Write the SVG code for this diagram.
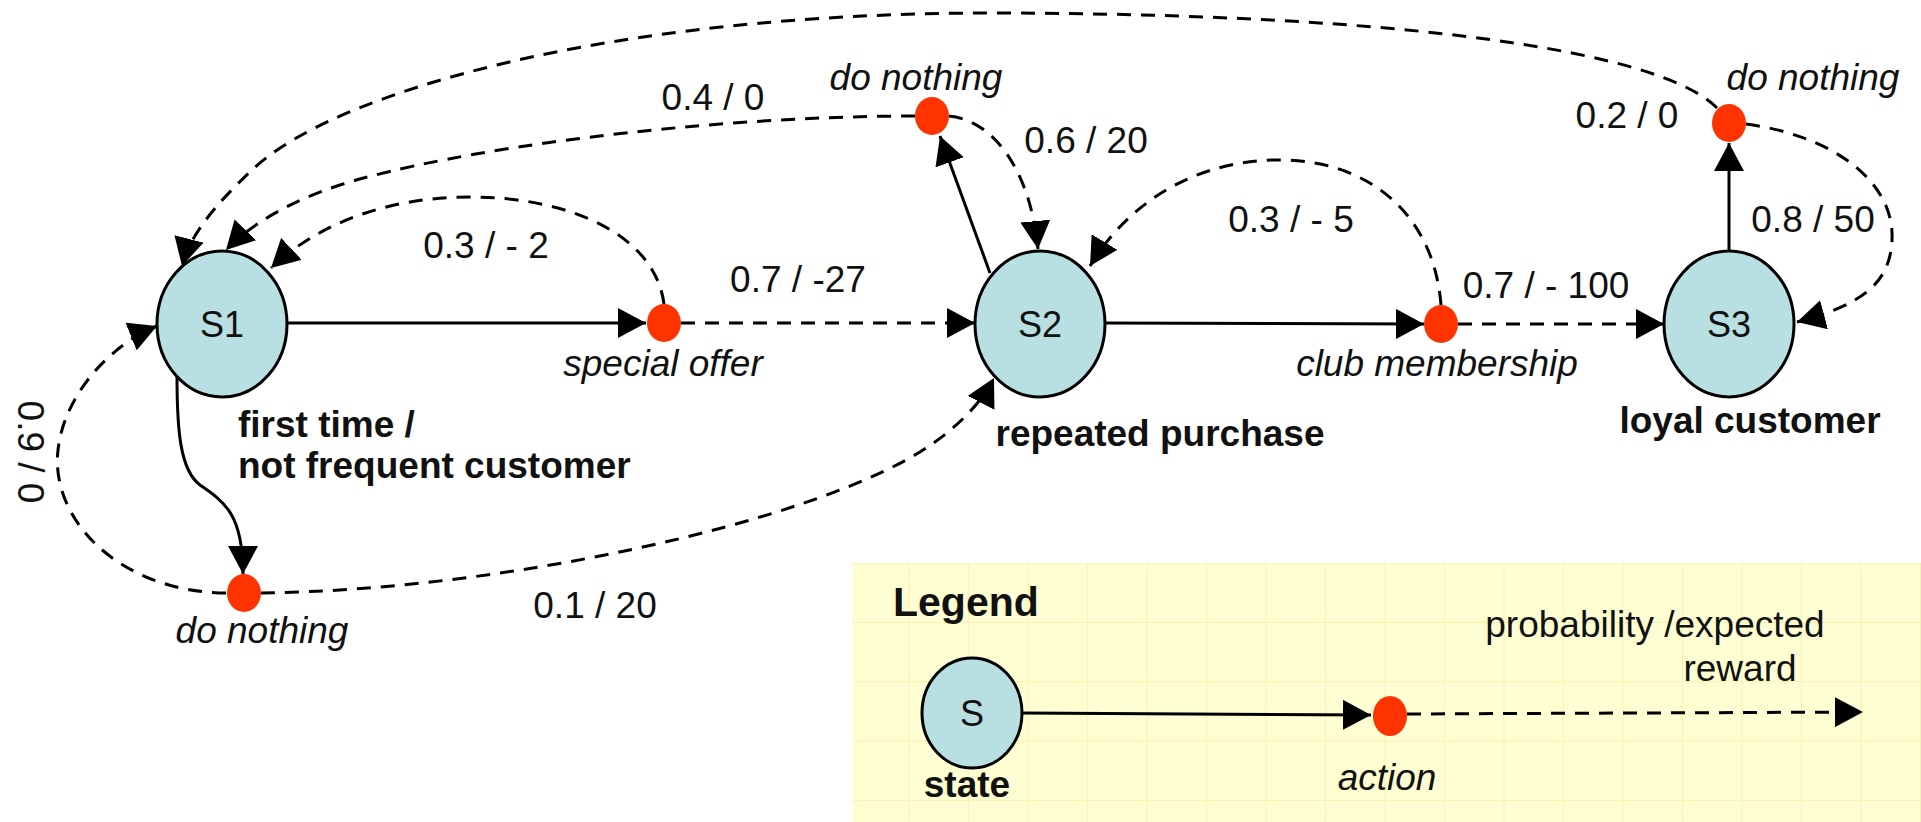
<svg xmlns="http://www.w3.org/2000/svg" width="1921" height="822" viewBox="0 0 1921 822">
<defs>
<style>
.state{fill:#b8dfe2;stroke:#000;stroke-width:3}
.act{fill:#ff3300}
.solid{fill:none;stroke:#000;stroke-width:3;marker-end:url(#ah)}
.dash{fill:none;stroke:#000;stroke-width:3;stroke-dasharray:14 10;marker-end:url(#ah)}
text{font-family:"Liberation Sans",Arial,sans-serif;fill:#111}
.lbl{font-size:37px;text-anchor:middle}
.it{font-size:37px;font-style:italic;text-anchor:middle}
.bold{font-size:37px;font-weight:bold}
.sn{font-size:36px;text-anchor:middle}
</style>
<marker id="ah" viewBox="0 0 28 30" refX="28" refY="15" markerWidth="28" markerHeight="30" markerUnits="userSpaceOnUse" orient="auto">
<path d="M0,0 L28,15 L0,30 z" fill="#000"/>
</marker>
<pattern id="grid" x="968" y="622" width="59.5" height="59.3" patternUnits="userSpaceOnUse">
<path d="M0,0 V59.3 M0,0 H59.5" fill="none" stroke="#f4f1a6" stroke-width="1.5"/>
</pattern>
</defs>
<rect width="1921" height="822" fill="#fff"/>

<g id="legend">
<rect x="852" y="563" width="1069" height="259" fill="#fefed2"/>
<rect x="852" y="563" width="1069" height="259" fill="url(#grid)"/>
<text x="893" y="616" style="font-size:41px;font-weight:bold">Legend</text>
<ellipse class="state" cx="972" cy="713" rx="50" ry="55"/>
<text class="sn" x="972" y="726">S</text>
<text class="bold" x="967" y="797" text-anchor="middle">state</text>
<path class="solid" d="M1022,713 L1371,715"/>
<ellipse class="act" cx="1390" cy="716" rx="17" ry="20"/>
<path class="dash" d="M1407,714 L1863,712"/>
<text class="it" x="1387" y="790">action</text>
<text class="lbl" x="1655" y="637">probability /expected</text>
<text class="lbl" x="1740" y="681">reward</text>
</g>

<g id="connectors">
<path class="solid" d="M288,323 L646,323"/>
<path class="dash" d="M681,323 L975,323"/>
<path class="solid" d="M177,376 C177,430 180,470 200,485 C225,502 243,515 243,574"/>
<path class="dash" d="M226,593 C120,592 50,520 58,450 C64,395 110,345 157,326"/>
<path class="dash" d="M664,304 C655,235 570,197 470,197 C390,197 320,222 271,268"/>
<path class="solid" d="M990,273 L940,136"/>
<path class="dash" d="M915,116 C700,116 450,150 340,185 C290,201 250,225 226,250"/>
<path class="dash" d="M949,116 C992,120 1030,168 1038,249"/>
<path class="solid" d="M1104,323 L1424,324"/>
<path class="dash" d="M1458,324 L1664,324"/>
<path class="dash" d="M1441,305 C1434,215 1370,162 1285,160 C1200,158 1130,200 1090,266"/>
<path class="solid" d="M1729,251 L1729,143"/>
<path class="dash" d="M1746,124 C1830,135 1895,180 1892,240 C1890,285 1860,305 1797,322"/>
<path class="dash" d="M1717,108 C1660,50 1400,14 1000,13 C600,12 330,95 252,170 C215,205 190,235 182,266"/>
<path class="dash" d="M261,593 C500,590 800,525 920,452 C955,430 980,405 994,378"/>
</g>

<g id="labels">
<text class="lbl" x="486" y="258">0.3 / - 2</text>
<text class="lbl" x="798" y="292">0.7 / -27</text>
<text class="lbl" x="713" y="110">0.4 / 0</text>
<text class="lbl" x="1086" y="153">0.6 / 20</text>
<text class="lbl" x="1291" y="232">0.3 / - 5</text>
<text class="lbl" x="1546" y="298">0.7 / - 100</text>
<text class="lbl" x="1627" y="128">0.2 / 0</text>
<text class="lbl" x="1813" y="232">0.8 / 50</text>
<text class="lbl" x="595" y="618">0.1 / 20</text>
<text class="lbl" transform="translate(18,452) rotate(90)">0.9 / 0</text>
</g>

<g id="S1">
<ellipse class="state" cx="222" cy="324" rx="65" ry="73"/>
<text class="sn" x="222" y="337">S1</text>
<text class="bold" x="238" y="437">first time /</text>
<text class="bold" x="238" y="478">not frequent customer</text>
</g>
<g id="S2">
<ellipse class="state" cx="1040" cy="324" rx="65" ry="73"/>
<text class="sn" x="1040" y="337">S2</text>
<text class="bold" x="1160" y="446" text-anchor="middle">repeated purchase</text>
</g>
<g id="S3">
<ellipse class="state" cx="1729" cy="324" rx="65" ry="73"/>
<text class="sn" x="1729" y="337">S3</text>
<text class="bold" x="1750" y="433" text-anchor="middle">loyal customer</text>
</g>
<g id="a_special_offer">
<ellipse class="act" cx="664" cy="323" rx="17" ry="19"/>
<text class="it" x="663" y="376">special offer</text>
</g>
<g id="a_do_nothing_s1">
<ellipse class="act" cx="244" cy="593" rx="17" ry="19"/>
<text class="it" x="262" y="643">do nothing</text>
</g>
<g id="a_do_nothing_s2">
<ellipse class="act" cx="932" cy="116" rx="17" ry="19"/>
<text class="it" x="916" y="90">do nothing</text>
</g>
<g id="a_club_membership">
<ellipse class="act" cx="1441" cy="324" rx="17" ry="19"/>
<text class="it" x="1437" y="376">club membership</text>
</g>
<g id="a_do_nothing_s3">
<ellipse class="act" cx="1729" cy="123" rx="17" ry="19"/>
<text class="it" x="1813" y="90">do nothing</text>
</g>
</svg>
